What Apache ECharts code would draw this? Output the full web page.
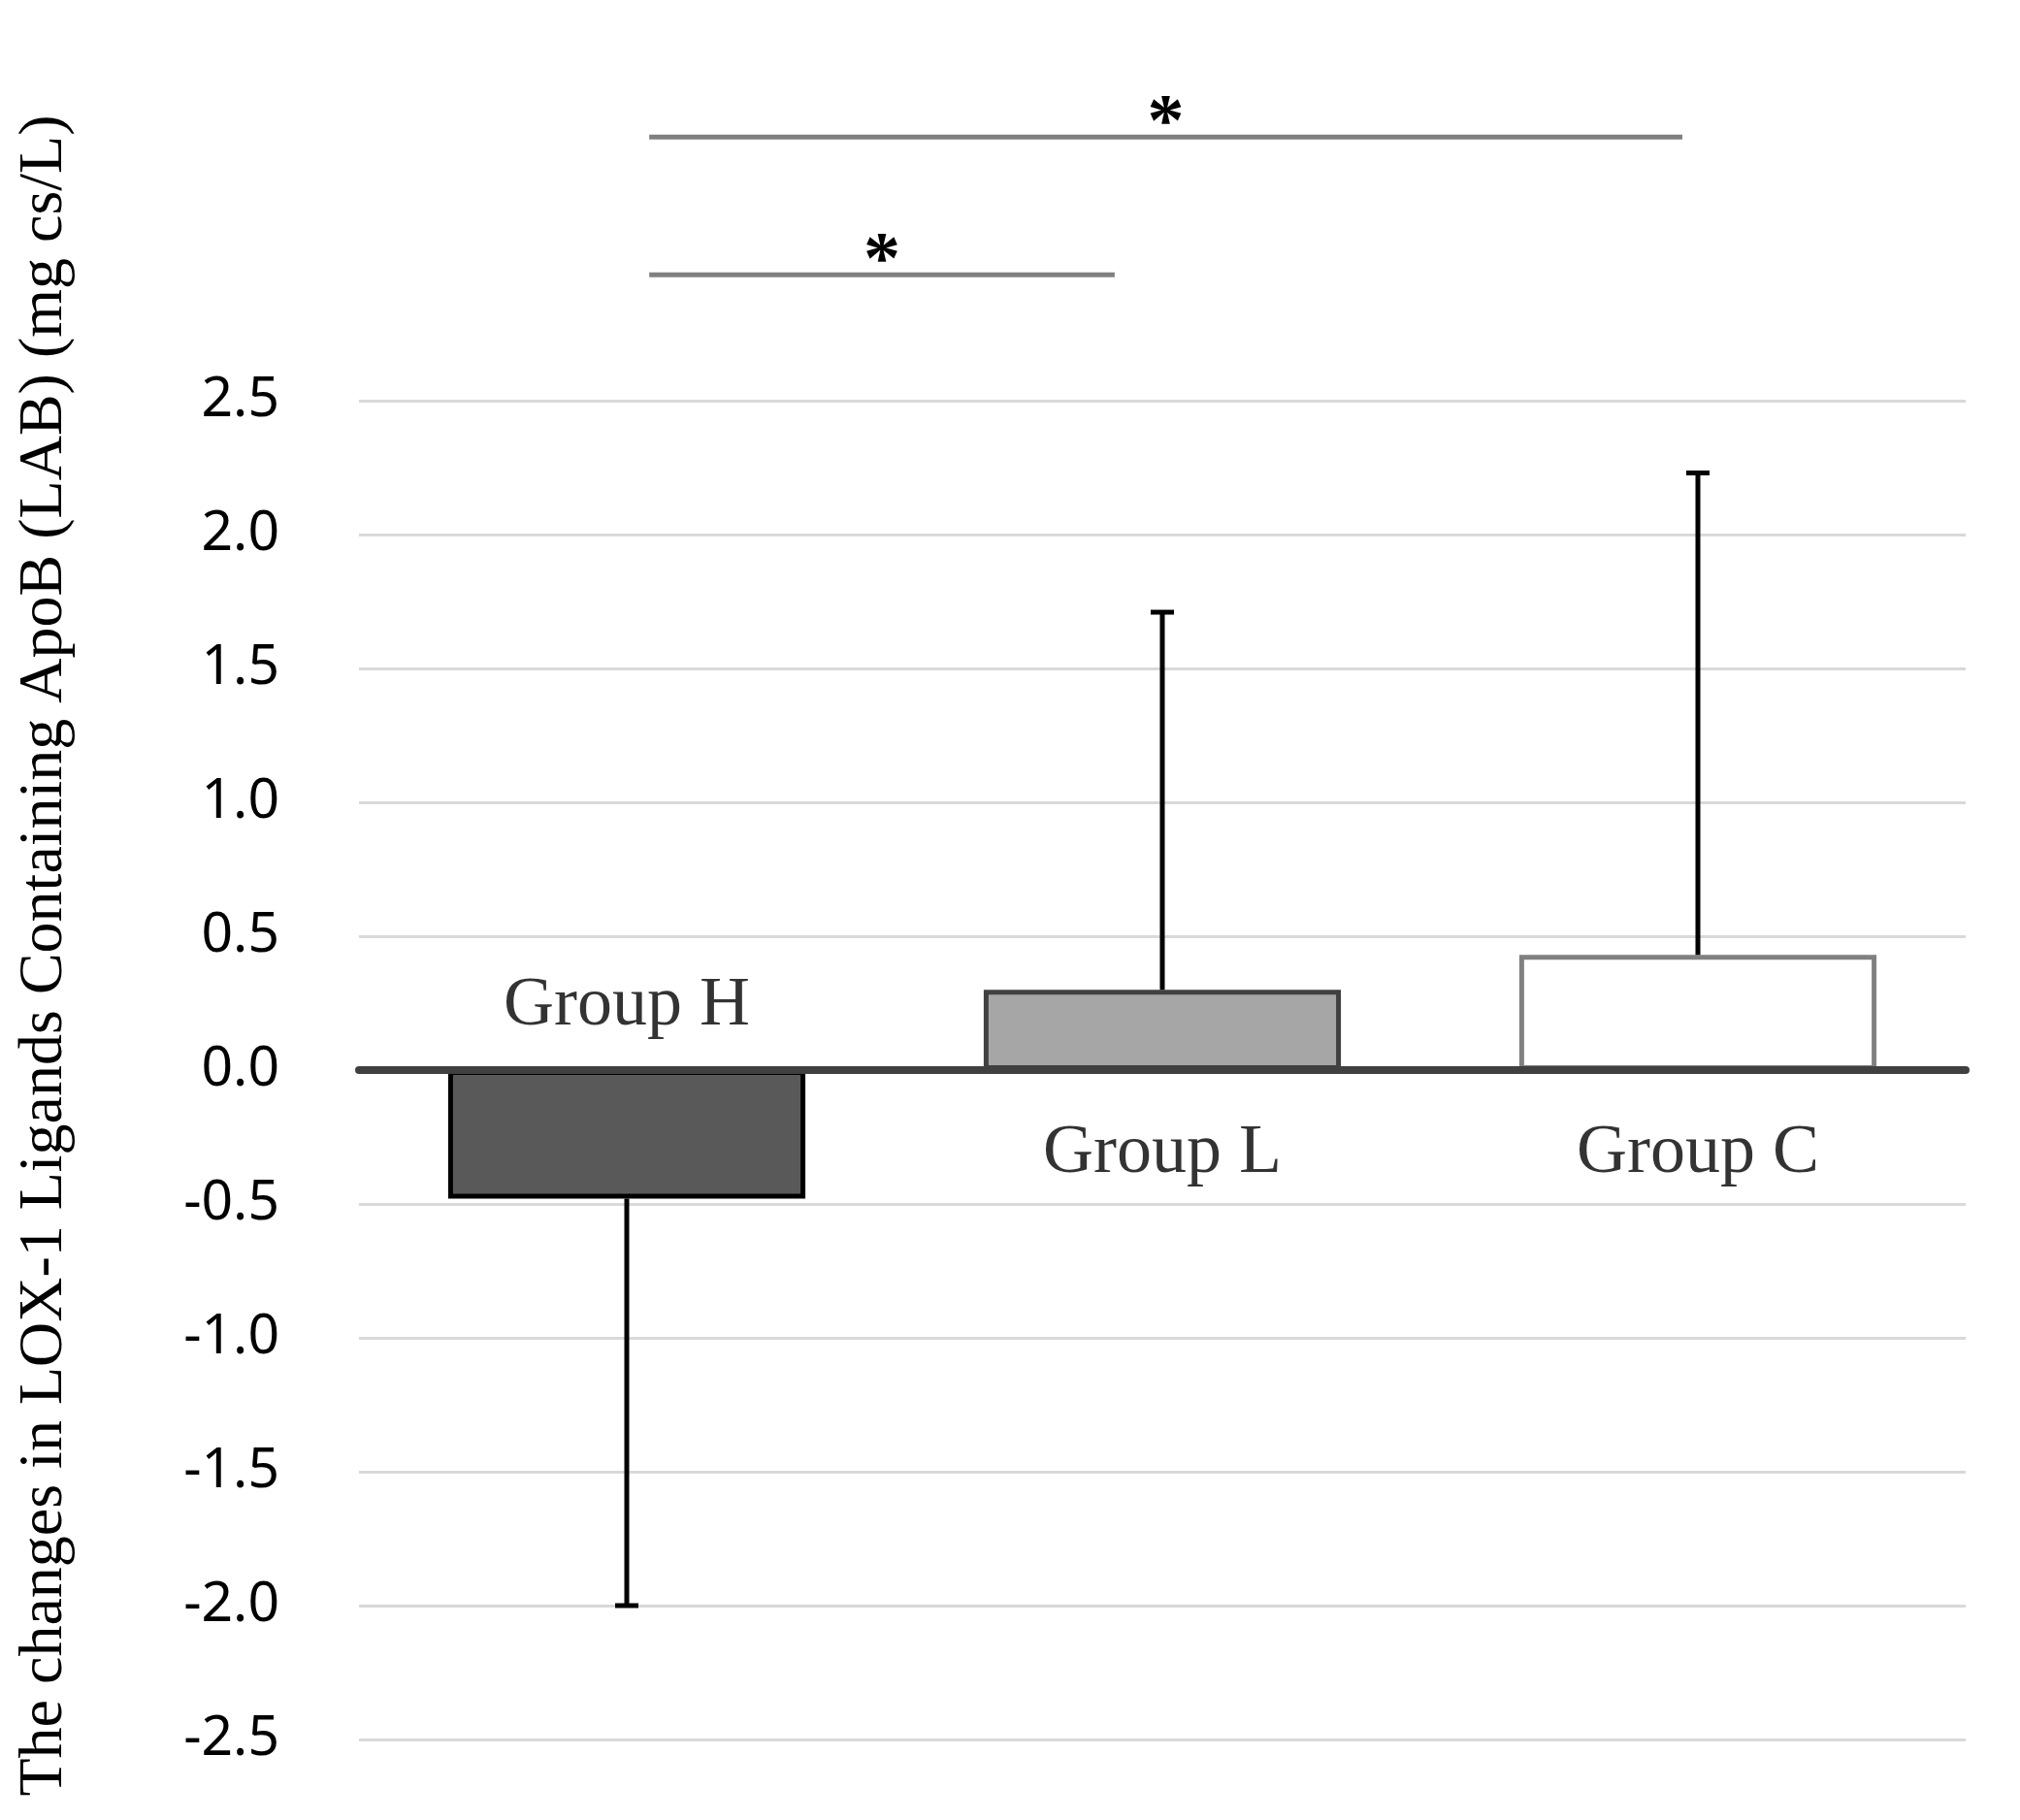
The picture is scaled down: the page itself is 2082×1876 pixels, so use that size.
<!DOCTYPE html>
<html>
<head>
<meta charset="utf-8">
<title>LAB changes</title>
<script src="https://cdn.jsdelivr.net/npm/echarts@6/dist/echarts.min.js"></script>
<style>
	html, body { margin: 0; padding: 0; background: #fff; }
	#chart { width: 2082px; height: 1876px; }
</style>
</head>
<body>
<div id="chart"></div>
<script type="text/javascript">
// groups and values
var groups = ['Group H', 'Group L', 'Group C'];
var means = [-0.48, 0.30, 0.43];
var errors = [1.52, 1.41, 1.80];
var yTicks = [-2.5, -2.0, -1.5, -1.0, -0.5, 0.5, 1.0, 1.5, 2.0, 2.5];
// significance brackets: [from, to, level] on a 0..3 group scale
var brackets = [[0.542, 2.471, 3.485], [0.542, 1.411, 2.97]];
var bracketMarks = ['*', '*'];

// styles
var fills = ['#595959', '#a6a6a6', '#ffffff'];
var borders = ['#000000', '#404040', '#808080'];

var serif = '"Liberation Serif", serif';
var sans = '"Noto Sans", sans-serif';

var chart = echarts.init(document.getElementById('chart'));

var option = {
	animation: false,
	backgroundColor: '#ffffff',
	grid: { left: 370, right: 56, top: 137, bottom: 83, containLabel: false },
	xAxis: [{
		type: 'category',
		data: groups,
		z: 5,
		axisLine: { onZero: true, lineStyle: { color: '#404040', width: 8 } },
		axisTick: { show: false },
		axisLabel: { show: false },
		splitLine: { show: false }
	}, {
		type: 'value',
		min: 0,
		max: 3,
		show: false
	}],
	yAxis: {
		type: 'value',
		min: -2.5,
		max: 3.5,
		interval: 0.5,
		name: 'The changes in LOX-1 Ligands Containing ApoB (LAB) (mg cs/L)',
		nameLocation: 'middle',
		nameRotate: 90,
		nameGap: 292,
		nameTextStyle: { fontFamily: serif, fontSize: 64, color: '#000', padding: [0, 40, 0, 0] },
		axisLine: { show: false },
		axisTick: { show: false },
		splitLine: { show: false },
		axisLabel: {
			margin: 82,
			fontFamily: sans,
			fontSize: 57,
			color: '#000',
			formatter: function (v) { return v > 2.5001 ? '' : v.toFixed(1); }
		}
	},
	series: [{
		// gridlines
		type: 'line',
		data: [],
		z: 1,
		silent: true,
		markLine: {
			silent: true,
			z: 0,
			symbol: 'none',
			label: { show: false },
			lineStyle: { color: '#d9d9d9', width: 3, type: 'solid' },
			data: yTicks.map(function (v) { return { yAxis: v }; })
		}
	}, {
		type: 'bar',
		z: 2,
		barWidth: '66.7%',
		data: means.map(function (v, i) {
			return { value: v, itemStyle: { color: fills[i], borderColor: borders[i], borderWidth: 5 } };
		})
	}, {
		// one-sided error bars
		type: 'custom',
		z: 3,
		data: means.map(function (v, i) { return [i, v, v < 0 ? v - errors[i] : v + errors[i]]; }),
		renderItem: function (params, api) {
			var p0 = api.coord([api.value(0), api.value(1)]);
			var p1 = api.coord([api.value(0), api.value(2)]);
			var cap = 12;
			var st = { stroke: '#000', lineWidth: 5 };
			return {
				type: 'group',
				children: [
					{ type: 'line', shape: { x1: p0[0], y1: p0[1], x2: p1[0], y2: p1[1] }, style: st },
					{ type: 'line', shape: { x1: p1[0] - cap, y1: p1[1], x2: p1[0] + cap, y2: p1[1] }, style: st }
				]
			};
		}
	}, {
		// group names beside the zero line
		type: 'scatter',
		z: 4,
		symbolSize: 0,
		silent: true,
		data: groups.map(function (g, i) {
			return {
				name: g,
				value: [i, 0],
				label: { position: means[i] < 0 ? 'top' : 'bottom', distance: means[i] < 0 ? 30 : 50 }
			};
		}),
		label: {
			show: true,
			formatter: '{b}',
			fontFamily: serif,
			fontSize: 72,
			color: '#000'
		}
	}, {
		// significance brackets
		type: 'custom',
		xAxisIndex: 1,
		z: 4,
		clip: false,
		data: brackets,
		renderItem: function (params, api) {
			var a = api.coord([api.value(0), api.value(2)]);
			var b = api.coord([api.value(1), api.value(2)]);
			return {
				type: 'group',
				children: [
					{ type: 'line', shape: { x1: a[0], y1: a[1], x2: b[0], y2: b[1] }, style: { stroke: '#808080', lineWidth: 5 } },
					{ type: 'text', style: {
						text: bracketMarks[params.dataIndex],
						x: (a[0] + b[0]) / 2, y: a[1] + 26,
						align: 'center', verticalAlign: 'bottom',
						font: 'bold 76px "Liberation Serif", serif', fill: '#000'
					} }
				]
			};
		}
	}]
};

chart.setOption(option);
</script>
</body>
</html>
